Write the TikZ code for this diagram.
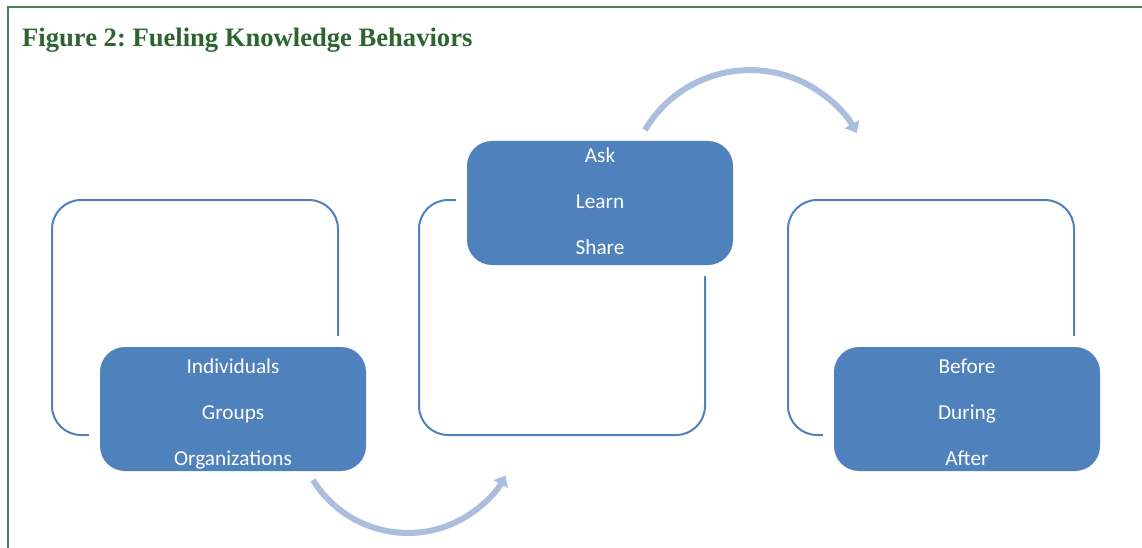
\documentclass[tikz,border=0pt]{standalone}
\usepackage{fontspec}
\setmainfont{Carlito}
\newfontfamily\titlefont{Liberation Serif}
\usetikzlibrary{arrows.meta}
\definecolor{frameGreen}{HTML}{4E7F4E}
\definecolor{titleGreen}{HTML}{2E6431}
\definecolor{boxBlue}{HTML}{4F81BD}
\definecolor{arcBlue}{HTML}{ABBEDD}
\tikzset{
  outlinebox/.style={draw=boxBlue, line width=2pt, rounded corners=29pt,
    minimum width=286pt, minimum height=235pt, inner sep=0pt},
  fillbox/.style={fill=boxBlue, rounded corners=25pt,
    preaction={draw=white, line width=22pt},
    minimum width=266pt, minimum height=124pt, inner sep=0pt},
  boxtext/.style={text=white, align=center, inner sep=0pt,
    font=\fontsize{21.3}{46}\selectfont},
  flowarc/.style={draw=arcBlue, line width=6pt,
    -{Triangle[length=10pt,width=16pt]}}
}
\begin{document}
\frenchspacing
\begin{tikzpicture}[x=1pt,y=1pt]
  \useasboundingbox (0,0) rectangle (1142,-548);
  % frame around the figure
  \draw[frameGreen, line width=2pt] (1142,-7.5) -- (7.5,-7.5) -- (7.5,-548);
  \node[anchor=base west, inner sep=0pt, text=titleGreen,
        font=\titlefont\bfseries\fontsize{26.6}{30}\selectfont] (title) at (22,-47)
        {Figure 2: Fueling Knowledge Behaviors};

  % outlined frames
  \node[outlinebox] (frameA) at (195,-317.5) {};
  \node[outlinebox] (frameB) at (562,-317.5) {};
  \node[outlinebox] (frameC) at (931,-317.5) {};

  % filled label boxes
  \node[fillbox] (who)  at (233,-409) {};
  \node[fillbox] (what) at (600,-203) {};
  \node[fillbox] (when) at (967,-409) {};

  % their texts
  \node[boxtext] (whoText)  at ([yshift=-4.5pt]who.center)  {Individuals\\Groups\\Organizations};
  \node[boxtext] (whatText) at ([yshift=1.5pt]what.center)  {Ask\\Learn\\Share};
  \node[boxtext] (whenText) at ([yshift=-3pt]when.center)   {Before\\During\\After};

  % curved arrows between the groups
  \coordinate (arcAstart) at (313,-480);
  \coordinate (arcBstart) at (645,-130);
  \draw[flowarc] (arcAstart) arc[start angle=211.7, end angle=331, radius=111.6];
  \draw[flowarc] (arcBstart) arc[start angle=149.4, end angle=29, radius=122];
\end{tikzpicture}
\end{document}
